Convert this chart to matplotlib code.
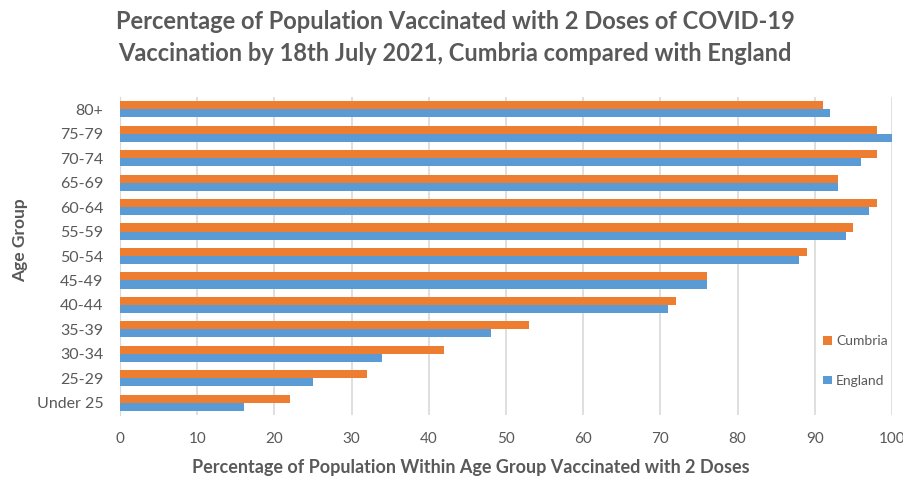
import numpy as np
import matplotlib.pyplot as plt

plt.rcParams['font.family'] = ['Lato', 'DejaVu Sans']

ages = ['Under 25', '25-29', '30-34', '35-39', '40-44', '45-49', '50-54',
        '55-59', '60-64', '65-69', '70-74', '75-79', '80+']
cumbria = [22, 32, 42, 53, 72, 76, 89, 95, 98, 93, 98, 98, 91]
england = [16, 25, 34, 48, 71, 76, 88, 94, 97, 93, 96, 100, 92]

grey = '#595959'
y = np.arange(len(ages))
h = 0.33

fig = plt.figure(figsize=(9.04, 4.78), dpi=100)
ax = fig.add_axes([120/904, 1-415/478, 772/904, 318/478])

ax.barh(y + h/2, cumbria, height=h, color='#ED7D31', label='Cumbria', zorder=3)
ax.barh(y - h/2, england, height=h, color='#5B9BD5', label='England', zorder=3)

ax.set_xlim(0, 100)
ax.set_ylim(-0.5, len(ages) - 0.5)
ax.set_xticks(range(0, 101, 10))
ax.set_yticks(y)
ax.set_yticklabels(ages)
ax.xaxis.grid(True, color='#d9d9d9', linewidth=1.2, zorder=0)
for s in ['top', 'right', 'bottom']:
    ax.spines[s].set_visible(False)
ax.spines['left'].set_color('#d9d9d9')
ax.tick_params(axis='both', length=0, colors=grey)
ax.tick_params(axis='y', pad=12, labelsize=11.5)
ax.tick_params(axis='x', pad=12, labelsize=11)

ax.set_xlabel('Percentage of Population Within Age Group Vaccinated with 2 Doses',
              fontsize=13, fontweight='bold', color=grey)
ax.xaxis.set_label_coords(0.455, -0.138)
ax.set_ylabel('Age Group', fontsize=12.5, fontweight='bold', color=grey)
ax.yaxis.set_label_coords(-0.119, 0.55)

fig.suptitle('Percentage of Population Vaccinated with 2 Doses of COVID-19\n'
             'Vaccination by 18th July 2021, Cumbria compared with England',
             x=455/904, y=0.98, fontsize=17, fontweight='bold', color=grey,
             linespacing=1.5)

leg = ax.legend(loc='center left', bbox_to_anchor=(0.895, 0.17), frameon=False,
                fontsize=10, handlelength=0.6, handleheight=0.6, handletextpad=0.3,
                labelspacing=2.0, labelcolor=grey)

plt.savefig('out.png', dpi=100)
